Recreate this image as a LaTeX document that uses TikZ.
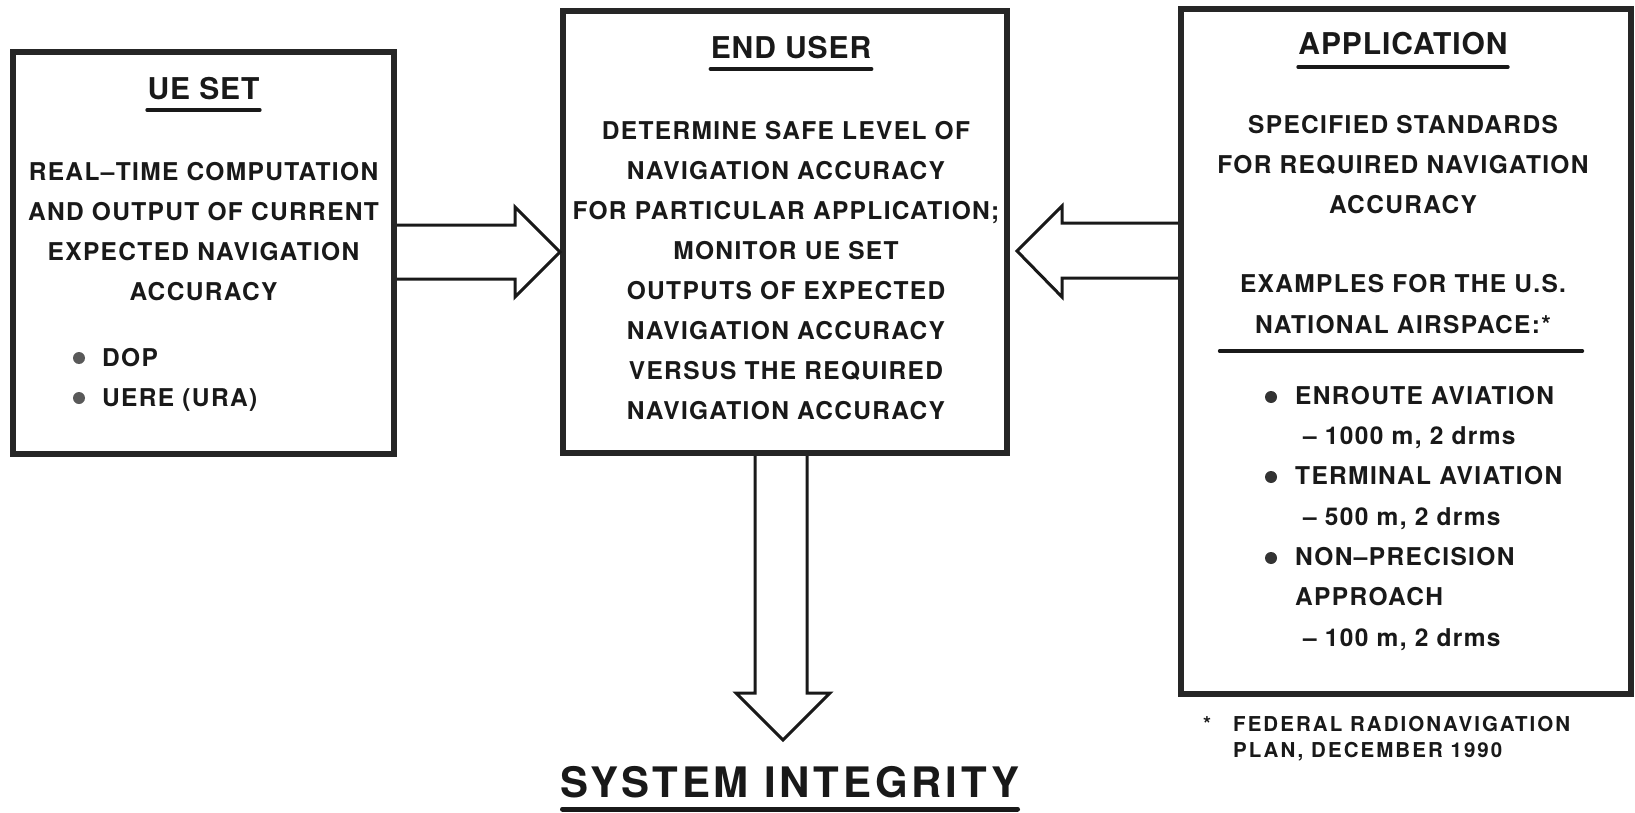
\documentclass[tikz,border=0pt]{standalone}
\usepackage{fontspec}
\setmainfont{TeX Gyre Heros}
\newfontfamily\bodyfont[LetterSpace=5.5]{TeX Gyre Heros}
\newfontfamily\headfont[LetterSpace=3]{TeX Gyre Heros}
\newfontfamily\bigfont[LetterSpace=9]{TeX Gyre Heros}
\newfontfamily\notefont[LetterSpace=10]{TeX Gyre Heros}
\usetikzlibrary{positioning, calc}

\begin{document}
\begin{tikzpicture}[
    x=1pt, y=-1pt,
    box/.style={rectangle, draw=black!85, line width=6pt, inner sep=0pt, anchor=north west},
    head/.style={font=\headfont\bfseries\fontsize{30}{36}\selectfont, text=black!90, inner sep=0pt, anchor=base},
    body/.style={font=\bodyfont\bfseries\fontsize{24.5}{40}\selectfont, text=black!90, inner sep=0pt, align=center, anchor=base},
    item/.style={body, align=left, anchor=base west},
    note/.style={item, font=\notefont\bfseries\fontsize{20.5}{26}\selectfont},
    dot/.style={circle, fill=black!65, minimum size=12pt, inner sep=0pt},
    uline/.style={line width=4pt, black!90, line cap=round},
    bigarrow/.style={draw=black!90, line width=3pt, line join=miter}
]
    \fill[white] (0,0) rectangle (1635,813);
    \useasboundingbox (0,0) rectangle (1635,813);

    % the three boxes
    \node [box, minimum width=381pt, minimum height=402pt] (ueset) at (10,49) {};
    \node [box, minimum width=444pt, minimum height=442pt] (enduser) at (560,8) {};
    \node [box, minimum width=450pt, minimum height=685pt] (appl) at (1178,6) {};

    % UE set (multi-line nodes sit on their last baseline)
    \node [head] (uetitle) at (203.5,100) {UE SET};
    \draw [uline] ($(uetitle.base west)+(0,10)$) -- ($(uetitle.base east)+(0,10)$);
    \node [body] (uebody) at (203.5,300) {REAL–TIME COMPUTATION\\AND OUTPUT OF CURRENT\\EXPECTED NAVIGATION\\ACCURACY};
    \node [item] (uelist) at (102,406) {DOP\\UERE (URA)};
    \node [dot] (uedot1) at (79,358) {};
    \node [dot] (uedot2) at (79,398) {};

    % end user
    \node [head] (eutitle) at (791,59) {END USER};
    \draw [uline] ($(eutitle.base west)+(0,10)$) -- ($(eutitle.base east)+(0,10)$);
    \node [body] (eubody) at (786,419) {DETERMINE SAFE LEVEL OF\\NAVIGATION ACCURACY\\FOR PARTICULAR APPLICATION;\\MONITOR UE SET\\OUTPUTS OF EXPECTED\\NAVIGATION ACCURACY\\VERSUS THE REQUIRED\\NAVIGATION ACCURACY};

    % application
    \node [head] (aptitle) at (1403,55) {APPLICATION};
    \draw [uline] ($(aptitle.base west)+(0,12)$) -- ($(aptitle.base east)+(0,12)$);
    \node [body] (appstd) at (1403,214) {SPECIFIED STANDARDS\\FOR REQUIRED NAVIGATION\\ACCURACY};
    \node [body, font=\bodyfont\bfseries\fontsize{24.5}{41}\selectfont] (appex) at (1403,333) {EXAMPLES FOR THE U.S.\\NATIONAL AIRSPACE:*};
    \draw [uline] ($(appex.base west)+(-20,18)$) -- ($(appex.base east)+(16,18)$);
    \node [item, font=\bodyfont\bfseries\fontsize{24.5}{40.33}\selectfont] (applist) at (1295,646)
        {ENROUTE AVIATION\\\hspace{8pt}– 1000 m, 2 drms\\TERMINAL AVIATION\\\hspace{8pt}– 500 m, 2 drms\\NON–PRECISION\\APPROACH\\\hspace{8pt}– 100 m, 2 drms};
    \node [dot, fill=black!80] (apdot1) at (1271,397) {};
    \node [dot, fill=black!80] (apdot2) at (1271,477) {};
    \node [dot, fill=black!80] (apdot3) at (1271,558) {};

    % footnote
    \node [note] (fnote) at (1233,757) {FEDERAL RADIONAVIGATION\\PLAN, DECEMBER 1990};
    \node [note] (star) at (1203,731) {*};

    % outcome
    \node [anchor=base, inner sep=0pt, text=black!90, font=\bigfont\bfseries\fontsize{42}{48}\selectfont] (integ) at (790,797) {SYSTEM INTEGRITY};
    \draw [line width=5pt, black!90, line cap=round] ($(integ.base west)+(2,12)$) -- ($(integ.base east)+(-2,12)$);

    % hollow arrows
    \draw [bigarrow] (ueset.east |- 0,225) -- (515,225) -- (515,207) -- (enduser.west |- 0,252)
        -- (515,297) -- (515,279) -- (ueset.east |- 0,279);
    \draw [bigarrow] (appl.west |- 0,223) -- (1062,223) -- (1062,206) -- ([xshift=7pt]enduser.east |- 0,251)
        -- (1062,297) -- (1062,278) -- (appl.west |- 0,278);
    \draw [bigarrow] (enduser.south -| 755,0) -- (755,693) -- (736,693) -- (783,740)
        -- (830,693) -- (807,693) -- (enduser.south -| 807,0);
\end{tikzpicture}
\end{document}
